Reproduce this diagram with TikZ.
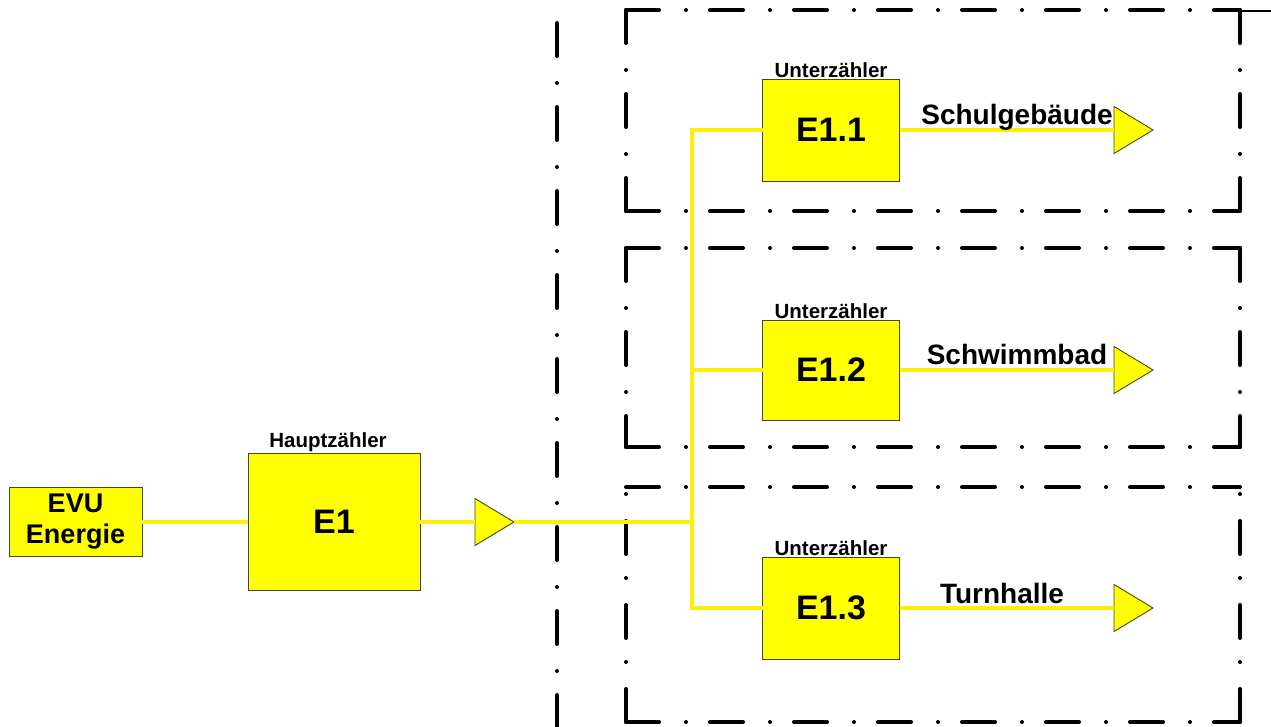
\documentclass[tikz,border=0pt]{standalone}
\usepackage{fontspec}
\setmainfont{Liberation Sans}
\usetikzlibrary{shapes.geometric}
\definecolor{ylw}{RGB}{255,255,0}
\definecolor{wirecol}{RGB}{255,240,0}
\definecolor{edgecol}{RGB}{70,70,30}
\begin{document}
\begin{tikzpicture}[x=1pt,y=-1pt,
  box/.style={draw=edgecol, line width=0.9, fill=ylw, inner sep=0, outer sep=0,
    font=\bfseries\fontsize{34}{38}\selectfont},
  wire/.style={draw=wirecol, line width=4},
  tri/.style={isosceles triangle, isosceles triangle stretches, draw=edgecol, line width=0.9,
    fill=ylw, minimum width=47, minimum height=39, inner sep=0, outer sep=0, anchor=west},
  dashframe/.style={line width=4, dash pattern=on 33 off 27 on 0 off 24, line cap=round},
  small/.style={font=\bfseries\fontsize{20.5}{23}\selectfont, inner sep=1.5, anchor=south},
  dest/.style={font=\bfseries\fontsize{28}{30}\selectfont, inner sep=0, anchor=base}]
\useasboundingbox (0,0) rectangle (1271,727);

% dash-dot frames
\draw[dashframe] (557,23) -- (557,727);
% box 1
\draw[dashframe] (626,10) -- (1240,10);
\draw[dashframe] (626,10) -- (626,211);
\draw[dashframe] (1240,10) -- (1240,211);
\draw[dashframe] (626,211) -- (1240,211);
\draw[line width=2] (1240,11) -- (1271,11);
% box 2
\draw[dashframe] (626,248) -- (1240,248);
\draw[dashframe] (626,248) -- (626,447);
\draw[dashframe] (1240,248) -- (1240,447);
\draw[dashframe] (626,447) -- (1240,447);
% box 3
\draw[dashframe] (626,487) -- (1240,487);
\draw[dashframe] (626,722) -- (626,487);
\draw[dashframe] (1240,722) -- (1240,487);
\draw[dashframe] (626,722) -- (1240,722);

% nodes
\node[box, minimum width=133, minimum height=69, align=center,
  font=\bfseries\fontsize{27}{31}\selectfont] (evu) at (75.5,522) {EVU\\Energie};
\node[box, minimum width=172, minimum height=137] (e1) at (334,522) {E1};
\node[small] (hz) at ([xshift=-6]e1.north) {Hauptzähler};
\node[tri] (t0) at (475,522) {};
\coordinate (jn) at (692,522);

\node[box, minimum width=137, minimum height=102] (e11) at (831,130) {E1.1};
\node[box, minimum width=137, minimum height=100] (e12) at (831,370) {E1.2};
\node[box, minimum width=137, minimum height=102] (e13) at (831,608) {E1.3};
\node[small] (u1) at (e11.north) {Unterzähler};
\node[small] (u2) at (e12.north) {Unterzähler};
\node[small] (u3) at (e13.north) {Unterzähler};

\node[tri] (t1) at (1114,130) {};
\node[tri] (t2) at (1114,370) {};
\node[tri] (t3) at (1114,608) {};

% connectors
\draw[wire] (evu.east) -- (e1.west);
\draw[wire] (e1.east) -- (t0.west);
\draw[wire] (t0.apex) -- (jn);
\draw[wire] (jn) |- (e11.west);
\draw[wire] (jn) |- (e12.west);
\draw[wire] (jn) |- (e13.west);
\draw[wire] (e11.east) -- (t1.west);
\draw[wire] (e12.east) -- (t2.west);
\draw[wire] (e13.east) -- (t3.west);

\node[dest] (d1) at (1017,125) {Schulgebäude};
\node[dest] (d2) at (1017,364) {Schwimmbad};
\node[dest] (d3) at (1002,603) {Turnhalle};
\end{tikzpicture}
\end{document}
